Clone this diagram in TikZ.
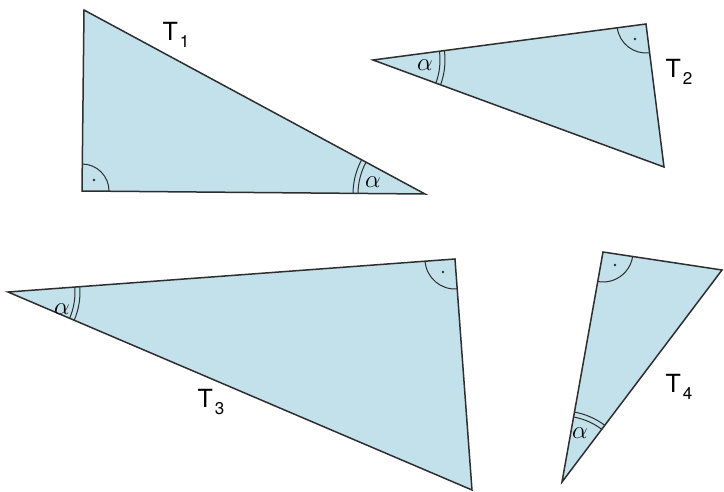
\documentclass[tikz,border=0pt]{standalone}
\usepackage{fontspec}
\setsansfont{TeX Gyre Heros}
\usetikzlibrary{angles,calc}
\definecolor{tfill}{HTML}{C3E1EB}
\definecolor{tline}{HTML}{2E2E2E}
\tikzset{
  tri/.style={fill=tfill,draw=tline,line width=1.5pt,line join=miter},
  amark/.style={draw=tline,line width=1pt},
  alab/.style={font=\fontsize{28}{28}\selectfont,inner sep=0pt},
  tlab/.style={font=\sffamily\fontsize{25}{25}\selectfont,inner sep=0pt},
  rdot/.style={fill=tline,circle,inner sep=0pt,minimum size=2.6pt}
}
\newcommand{\tname}[1]{T\kern0.08em\raisebox{-0.28em}{\fontsize{17}{17}\selectfont #1}}
\begin{document}
\begin{tikzpicture}[x=1pt,y=1pt]
\useasboundingbox (0,0) rectangle (724,491);
% T1
\coordinate (a1) at (84,481);
\coordinate (b1) at (82,300);
\coordinate (c1) at (425,297);
\draw[tri] (a1) -- (b1) -- (c1) -- cycle;
\pic[amark,angle radius=27pt] {angle = c1--b1--a1};
\pic[amark,angle radius=67pt] {angle = a1--c1--b1};
\pic[amark,angle radius=72pt] {angle = a1--c1--b1};
\node[rdot] (d1) at (94,311) {};
\node[alab] (al1) at (373,309) {$\alpha$};
\node[tlab] (t1) at (176,456) {\tname{1}};
% T2
\coordinate (a2) at (373,431);
\coordinate (b2) at (646,467);
\coordinate (c2) at (664,324);
\draw[tri] (a2) -- (b2) -- (c2) -- cycle;
\pic[amark,angle radius=29pt] {angle = a2--b2--c2};
\pic[amark,angle radius=67pt] {angle = c2--a2--b2};
\pic[amark,angle radius=72pt] {angle = c2--a2--b2};
\node[rdot] (d2) at (635,452) {};
\node[alab] (al2) at (425,426) {$\alpha$};
\node[tlab] (t2) at (679,419) {\tname{2}};
% T3
\coordinate (a3) at (8,199);
\coordinate (b3) at (455,232);
\coordinate (c3) at (472,1);
\draw[tri] (a3) -- (b3) -- (c3) -- cycle;
\pic[amark,angle radius=30pt] {angle = a3--b3--c3};
\pic[amark,angle radius=67pt] {angle = c3--a3--b3};
\pic[amark,angle radius=72pt] {angle = c3--a3--b3};
\node[rdot] (d3) at (443,219) {};
\node[alab] (al3) at (62,182) {$\alpha$};
\node[tlab] (t3) at (211,89) {\tname{3}};
% T4
\coordinate (a4) at (603,239);
\coordinate (b4) at (722,221);
\coordinate (c4) at (562,9);
\draw[tri] (a4) -- (b4) -- (c4) -- cycle;
\pic[amark,angle radius=30pt] {angle = c4--a4--b4};
\pic[amark,angle radius=66pt] {angle = b4--c4--a4};
\pic[amark,angle radius=71pt] {angle = b4--c4--a4};
\node[rdot] (d4) at (615,226) {};
\node[alab] (al4) at (580,58) {$\alpha$};
\node[tlab] (t4) at (679,104) {\tname{4}};
\end{tikzpicture}
\end{document}
